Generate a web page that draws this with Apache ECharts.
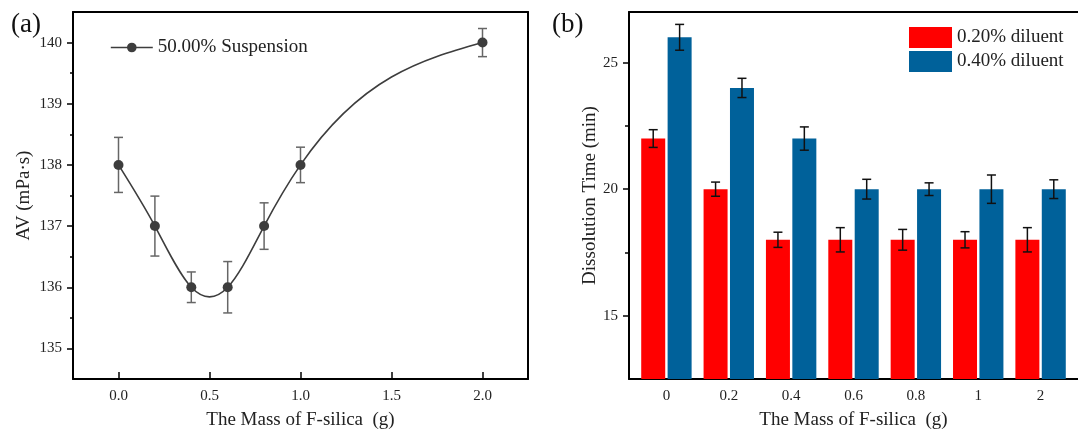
<!DOCTYPE html>
<html>
<head>
<meta charset="utf-8">
<script src="https://cdn.jsdelivr.net/npm/echarts@6/dist/echarts.min.js"></script>
<style>
  html, body { margin: 0; padding: 0; background: #fff; }
  #chart { width: 1078px; height: 435px; }
</style>
</head>
<body>
<div id="chart"></div>
<script>
// (a) apparent viscosity vs. mass of F-silica
const massA = [0, 0.2, 0.4, 0.6, 0.8, 1.0, 2.0];
const avValues = [138, 137, 136, 136, 137, 138, 140];
const avErrors = [0.45, 0.49, 0.25, 0.42, 0.38, 0.29, 0.23];
const ticksA_x = [0, 0.5, 1.0, 1.5, 2.0];
const ticksA_y = [135, 136, 137, 138, 139, 140];
const minorA_y = [135.5, 136.5, 137.5, 138.5, 139.5];

// (b) dissolution time per category
const massB = ['0', '0.2', '0.4', '0.6', '0.8', '1', '2'];
const diluent20 = [22, 20, 18, 18, 18, 18, 18];
const diluent20Err = [0.35, 0.28, 0.30, 0.48, 0.41, 0.32, 0.48];
const diluent40 = [26, 24, 22, 20, 20, 20, 20];
const diluent40Err = [0.51, 0.38, 0.46, 0.39, 0.25, 0.56, 0.37];
const ticksB_y = [15, 20, 25];
const minorB_y = [17.5, 22.5];

const FONT = 'Liberation Serif';
const BAR_W = 24;
const BAR_OFF = 13.2;
const LINE_COLOR = '#3d3d3d';

function errorBars(offset, color) {
    return function (params, api) {
        const x = api.value(0), y = api.value(1), e = api.value(2);
        const hi = api.coord([x, y + e]);
        const lo = api.coord([x, y - e]);
        const cx = hi[0] + offset, w = 4.5;
        const style = { stroke: color, lineWidth: 1.5 };
        return {
            type: 'group',
            children: [
                { type: 'line', shape: { x1: cx, y1: hi[1], x2: cx, y2: lo[1] }, style },
                { type: 'line', shape: { x1: cx - w, y1: hi[1], x2: cx + w, y2: hi[1] }, style },
                { type: 'line', shape: { x1: cx - w, y1: lo[1], x2: cx + w, y2: lo[1] }, style }
            ]
        };
    };
}

// natural cubic spline slopes at each knot (like the Origin spline connector)
function splineSlopes(xs, ys) {
    const n = xs.length, h = [], M = new Array(n).fill(0);
    for (let i = 0; i < n - 1; i++) h.push(xs[i + 1] - xs[i]);
    const a = [], b = [], c = [], d = [];
    for (let i = 1; i < n - 1; i++) {
        a.push(h[i - 1]); b.push(2 * (h[i - 1] + h[i])); c.push(h[i]);
        d.push(6 * ((ys[i + 1] - ys[i]) / h[i] - (ys[i] - ys[i - 1]) / h[i - 1]));
    }
    const m = b.length;
    for (let i = 1; i < m; i++) {
        const w = a[i] / b[i - 1];
        b[i] -= w * c[i - 1]; d[i] -= w * d[i - 1];
    }
    const sol = new Array(m);
    for (let i = m - 1; i >= 0; i--) sol[i] = (d[i] - (i < m - 1 ? c[i] * sol[i + 1] : 0)) / b[i];
    for (let i = 0; i < m; i++) M[i + 1] = sol[i];
    const left = [], right = [];
    for (let i = 0; i < n - 1; i++) {
        const s = (ys[i + 1] - ys[i]) / h[i];
        left.push(s - h[i] * (2 * M[i] + M[i + 1]) / 6);
        right.push(s + h[i] * (M[i] + 2 * M[i + 1]) / 6);
    }
    return { h, left, right };
}

function splineCurve(params, api) {
    if (params.dataIndex !== 0) return;
    const sp = splineSlopes(massA, avValues);
    let p0 = api.coord([massA[0], avValues[0]]);
    let path = 'M' + p0[0] + ' ' + p0[1];
    for (let i = 0; i < massA.length - 1; i++) {
        const h3 = sp.h[i] / 3;
        const c1 = api.coord([massA[i] + h3, avValues[i] + sp.left[i] * h3]);
        const c2 = api.coord([massA[i + 1] - h3, avValues[i + 1] - sp.right[i] * h3]);
        const p1 = api.coord([massA[i + 1], avValues[i + 1]]);
        path += ' C' + c1.join(' ') + ' ' + c2.join(' ') + ' ' + p1.join(' ');
    }
    return { type: 'path', shape: { pathData: path }, style: { fill: null, stroke: LINE_COLOR, lineWidth: 1.6 } };
}

const frameAxis = (grid, pos, min, max) => ({
    gridIndex: grid, type: 'value', position: pos, min, max,
    axisLine: { show: true, onZero: false, lineStyle: { color: '#000', width: 2 } },
    axisTick: { show: false }, axisLabel: { show: false }, splitLine: { show: false }
});

const labelStyle = { fontFamily: FONT, fontSize: 15, color: '#222' };
const nameStyle = { fontFamily: FONT, fontSize: 19, color: '#222' };

const option = {
    animation: false,
    backgroundColor: '#fff',
    title: [
        { text: '(a)', left: 6, top: 6, textStyle: { fontFamily: FONT, fontSize: 27, fontWeight: 'normal', color: '#111' } },
        { text: '(b)', left: 547, top: 6, textStyle: { fontFamily: FONT, fontSize: 27, fontWeight: 'normal', color: '#111' } }
    ],
    grid: [
        { left: 73, right: 550, top: 12, bottom: 55 },
        { left: 629, right: -6, top: 12, bottom: 56 }
    ],
    legend: [
        {
            data: ['50.00% Suspension'], left: 105, top: 33,
            itemWidth: 42, itemHeight: 12,
            lineStyle: { color: LINE_COLOR, width: 1.6, opacity: 1 },
            textStyle: nameStyle
        },
        {
            data: ['0.20% diluent', '0.40% diluent'], orient: 'vertical', left: 904, top: 22,
            itemWidth: 43, itemHeight: 21, itemGap: 3, icon: 'rect',
            textStyle: nameStyle
        }
    ],
    xAxis: [
        {
            gridIndex: 0, type: 'value', min: -0.25, max: 2.25,
            axisLine: { onZero: false, lineStyle: { color: '#000', width: 2 } },
            axisTick: { inside: true, length: 7, customValues: ticksA_x, lineStyle: { color: '#000', width: 1.5 } },
            axisLabel: Object.assign({ customValues: ticksA_x, margin: 10, formatter: v => v.toFixed(1) }, labelStyle),
            splitLine: { show: false },
            name: 'The Mass of F-silica  (g)', nameLocation: 'middle', nameGap: 32, nameTextStyle: nameStyle
        },
        frameAxis(0, 'top', -0.25, 2.25),
        {
            gridIndex: 1, type: 'value', min: -0.6, max: 6.6,
            axisLine: { onZero: false, lineStyle: { color: '#000', width: 2 } },
            axisTick: { show: false },
            axisLabel: Object.assign({ customValues: massB.map((_, i) => i), margin: 10, formatter: v => massB[Math.round(v)] }, labelStyle),
            splitLine: { show: false },
            name: 'The Mass of F-silica  (g)', nameLocation: 'middle', nameGap: 32, nameTextStyle: nameStyle
        },
        frameAxis(1, 'top', -0.6, 6.6)
    ],
    yAxis: [
        {
            gridIndex: 0, type: 'value', min: 134.5, max: 140.5,
            axisLine: { onZero: false, lineStyle: { color: '#000', width: 2 } },
            axisTick: { length: 6, customValues: ticksA_y, lineStyle: { color: '#000', width: 1.5 } },
            axisLabel: Object.assign({ customValues: ticksA_y, margin: 11 }, labelStyle),
            splitLine: { show: false },
            name: 'AV (mPa·s)', nameLocation: 'middle', nameGap: 39, nameTextStyle: nameStyle
        },
        {
            gridIndex: 0, type: 'value', min: 134.5, max: 140.5, position: 'left',
            axisLine: { show: false, onZero: false },
            axisTick: { length: 3, customValues: minorA_y, lineStyle: { color: '#000', width: 1.5 } },
            axisLabel: { show: false }, splitLine: { show: false }
        },
        frameAxis(0, 'right', 134.5, 140.5),
        {
            gridIndex: 1, type: 'value', min: 12.5, max: 27,
            axisLine: { onZero: false, lineStyle: { color: '#000', width: 2 } },
            axisTick: { length: 6, customValues: ticksB_y, lineStyle: { color: '#000', width: 1.5 } },
            axisLabel: Object.assign({ customValues: ticksB_y, margin: 11 }, labelStyle),
            splitLine: { show: false },
            name: 'Dissolution Time (min)', nameLocation: 'middle', nameGap: 28, nameTextStyle: nameStyle
        },
        {
            gridIndex: 1, type: 'value', min: 12.5, max: 27, position: 'left',
            axisLine: { show: false, onZero: false },
            axisTick: { length: 4, customValues: minorB_y, lineStyle: { color: '#000', width: 1.5 } },
            axisLabel: { show: false }, splitLine: { show: false }
        }
    ],
    series: [
        {
            type: 'custom', xAxisIndex: 0, yAxisIndex: 0, z: 1,
            data: massA.map((x, i) => [x, avValues[i], avErrors[i]]),
            renderItem: errorBars(0, '#666')
        },
        {
            type: 'custom', xAxisIndex: 0, yAxisIndex: 0, z: 2,
            data: massA.map((x, i) => [x, avValues[i]]),
            renderItem: splineCurve
        },
        {
            name: '50.00% Suspension', type: 'line', xAxisIndex: 0, yAxisIndex: 0, z: 3,
            data: massA.map((x, i) => [x, avValues[i]]),
            symbol: 'circle', symbolSize: 10,
            itemStyle: { color: LINE_COLOR }, lineStyle: { color: LINE_COLOR, width: 1.6, opacity: 0 }
        },
        {
            name: '0.20% diluent', type: 'bar', xAxisIndex: 2, yAxisIndex: 3,
            data: massB.map((_, i) => [i, diluent20[i]]),
            barWidth: BAR_W, barGap: '10%', itemStyle: { color: '#ff0000' }
        },
        {
            name: '0.40% diluent', type: 'bar', xAxisIndex: 2, yAxisIndex: 3,
            data: massB.map((_, i) => [i, diluent40[i]]),
            barWidth: BAR_W, barGap: '10%', itemStyle: { color: '#00619a' }
        },
        {
            type: 'custom', xAxisIndex: 2, yAxisIndex: 3, z: 5,
            data: massB.map((_, i) => [i, diluent20[i], diluent20Err[i]]),
            renderItem: errorBars(-BAR_OFF, '#111')
        },
        {
            type: 'custom', xAxisIndex: 2, yAxisIndex: 3, z: 5,
            data: massB.map((_, i) => [i, diluent40[i], diluent40Err[i]]),
            renderItem: errorBars(BAR_OFF, '#111')
        }
    ]
};

const myChart = echarts.init(document.getElementById('chart'), null, { renderer: 'canvas' });
myChart.setOption(option);
</script>
</body>
</html>
